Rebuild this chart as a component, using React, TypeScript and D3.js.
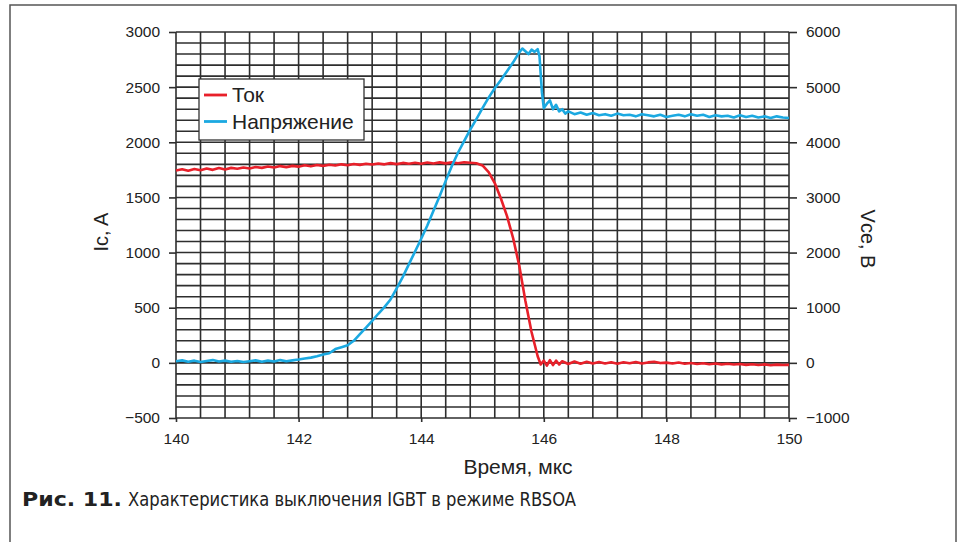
import React, { useRef, useEffect } from 'react';
import * as d3 from 'd3';

// оси
const timeTicks = [140, 142, 144, 146, 148, 150];
const currentTicks = [-500, 0, 500, 1000, 1500, 2000, 2500, 3000];
const voltageTicks = [-1000, 0, 1000, 2000, 3000, 4000, 5000, 6000];

// Ток, А  [время мкс, значение]
const current: [number, number][] = [
  [140.0, 1745], [140.1, 1756], [140.2, 1742], [140.3, 1758], [140.4, 1747],
  [140.5, 1762], [140.6, 1750], [140.7, 1766], [140.8, 1754], [140.9, 1768],
  [141.0, 1760], [141.1, 1772], [141.2, 1763], [141.3, 1776], [141.4, 1768],
  [141.5, 1780], [141.6, 1771], [141.7, 1784], [141.8, 1775], [141.9, 1786],
  [142.0, 1779], [142.1, 1791], [142.2, 1782], [142.3, 1794], [142.4, 1786],
  [142.5, 1797], [142.6, 1789], [142.7, 1800], [142.8, 1792], [142.9, 1803],
  [143.0, 1795], [143.1, 1806], [143.2, 1798], [143.3, 1808], [143.4, 1800],
  [143.5, 1811], [143.6, 1802], [143.7, 1813], [143.8, 1805], [143.9, 1815],
  [144.0, 1806], [144.1, 1816], [144.2, 1808], [144.3, 1818], [144.4, 1809],
  [144.5, 1818], [144.6, 1810], [144.7, 1819], [144.8, 1814], [144.9, 1810],
  [145.0, 1790], [145.1, 1730], [145.2, 1630], [145.3, 1490], [145.4, 1330],
  [145.5, 1130], [145.6, 880], [145.7, 560], [145.8, 280], [145.9, 60],
  [145.95, -15], [146.0, 20], [146.05, -25], [146.1, 25], [146.15, -20],
  [146.2, 20], [146.25, -15], [146.3, 15], [146.4, -10], [146.5, 12],
  [146.6, -8], [146.7, 10], [146.8, -5], [146.9, 8], [147.0, -5],
  [147.1, 5], [147.2, -8], [147.3, 6], [147.4, -4], [147.5, 8],
  [147.6, -6], [147.7, 4], [147.8, 10], [147.9, -2], [148.0, 2],
  [148.1, -6], [148.2, 3], [148.3, -8], [148.4, -2], [148.5, -10],
  [148.6, -4], [148.7, -12], [148.8, -6], [148.9, -14], [149.0, -8],
  [149.1, -15], [149.2, -10], [149.3, -18], [149.4, -12], [149.5, -20],
  [149.6, -14], [149.7, -22], [149.8, -16], [149.9, -20], [150.0, -18],
];

// Напряжение, В
const voltage: [number, number][] = [
  [140.0, 30], [140.1, 45], [140.2, 20], [140.3, 40], [140.4, 15],
  [140.5, 35], [140.6, 50], [140.7, 25], [140.8, 40], [140.9, 20],
  [141.0, 35], [141.1, 15], [141.2, 30], [141.3, 45], [141.4, 20],
  [141.5, 40], [141.6, 25], [141.7, 50], [141.8, 30], [141.9, 45],
  [142.0, 60], [142.1, 80], [142.2, 95], [142.3, 120], [142.4, 150],
  [142.5, 175], [142.6, 250], [142.7, 285], [142.8, 320], [142.9, 400],
  [143.0, 520], [143.1, 640], [143.2, 760], [143.3, 890], [143.4, 1010],
  [143.5, 1150], [143.6, 1350], [143.7, 1560], [143.8, 1790], [143.9, 2020],
  [144.0, 2250], [144.1, 2490], [144.2, 2760], [144.3, 3020], [144.4, 3300],
  [144.5, 3570], [144.6, 3810], [144.7, 4020], [144.8, 4230], [144.9, 4420],
  [145.0, 4620], [145.1, 4810], [145.2, 4980], [145.3, 5130], [145.4, 5290],
  [145.5, 5450], [145.6, 5630], [145.65, 5700], [145.7, 5650], [145.75, 5600],
  [145.8, 5680], [145.85, 5640], [145.9, 5690], [145.93, 5560], [145.97, 4900],
  [146.0, 4620], [146.05, 4700], [146.1, 4760], [146.15, 4600], [146.2, 4680],
  [146.25, 4560], [146.3, 4600], [146.35, 4520], [146.4, 4560], [146.5, 4510],
  [146.6, 4540], [146.7, 4500], [146.8, 4530], [146.9, 4490], [147.0, 4510],
  [147.1, 4480], [147.2, 4520], [147.3, 4490], [147.4, 4500], [147.5, 4470],
  [147.6, 4510], [147.7, 4490], [147.8, 4470], [147.9, 4500], [148.0, 4460],
  [148.1, 4480], [148.2, 4500], [148.3, 4470], [148.4, 4510], [148.5, 4480],
  [148.6, 4500], [148.7, 4460], [148.8, 4490], [148.9, 4470], [149.0, 4480],
  [149.1, 4450], [149.2, 4490], [149.3, 4460], [149.4, 4480], [149.5, 4450],
  [149.6, 4470], [149.7, 4440], [149.8, 4470], [149.9, 4450], [150.0, 4440],
];

const legendItems = [
  { label: 'Ток', color: '#e8202a' },
  { label: 'Напряжение', color: '#1ba9e1' },
];

const W = 959;
const H = 542;
const margin = { top: 32, right: 170, bottom: 124, left: 176 };
const FONT = "'Liberation Sans', Arial, sans-serif";
const GRID = '#2e2e2e';

const App = () => {
  const ref = useRef<SVGSVGElement>(null);

  useEffect(() => {
    const width = W - margin.left - margin.right;
    const height = H - margin.top - margin.bottom;

    const svg = d3.select(ref.current);
    svg.selectAll('*').remove();

    // рамка рисунка
    svg.append('rect')
      .attr('x', 10).attr('y', 5)
      .attr('width', 946).attr('height', 560)
      .attr('fill', '#fff')
      .attr('stroke', '#555').attr('stroke-width', 1.5);

    const g = svg.append('g')
      .attr('transform', `translate(${margin.left},${margin.top})`);

    const x = d3.scaleLinear().domain([140, 150]).range([0, width]);
    const yL = d3.scaleLinear().domain([-500, 3000]).range([height, 0]);
    const yR = d3.scaleLinear().domain([-1000, 6000]).range([height, 0]);

    // сетка
    const vGrid = d3.range(0, 26).map(i => 140 + i * 0.4);
    const hGrid = d3.range(-500, 3001, 100);

    g.append('g').selectAll('line')
      .data(vGrid)
      .enter().append('line')
      .attr('x1', d => x(d)).attr('x2', d => x(d))
      .attr('y1', 0).attr('y2', height)
      .attr('stroke', GRID).attr('stroke-width', 1.6);

    g.append('g').selectAll('line')
      .data(hGrid)
      .enter().append('line')
      .attr('x1', 0).attr('x2', width)
      .attr('y1', d => yL(d)).attr('y2', d => yL(d))
      .attr('stroke', GRID).attr('stroke-width', 1.6);

    const styleAxis = (sel) => {
      sel.select('.domain').remove();
      sel.selectAll('.tick line').attr('stroke', GRID).attr('stroke-width', 1.6);
      sel.selectAll('.tick text')
        .attr('fill', '#222')
        .style('font-family', FONT)
        .style('font-size', '15.5px');
    };

    g.append('g')
      .call(d3.axisLeft(yL).tickValues(currentTicks).tickSize(7).tickPadding(9).tickFormat(d3.format('d')))
      .call(styleAxis);

    g.append('g')
      .attr('transform', `translate(${width},0)`)
      .call(d3.axisRight(yR).tickValues(voltageTicks).tickSize(8).tickPadding(9).tickFormat(d3.format('d')))
      .call(styleAxis);

    g.append('g')
      .attr('transform', `translate(0,${height})`)
      .call(d3.axisBottom(x).tickValues(timeTicks).tickSize(4).tickPadding(11))
      .call(styleAxis);

    // кривые
    const lineL = d3.line<[number, number]>().x(d => x(d[0])).y(d => yL(d[1]));
    const lineR = d3.line<[number, number]>().x(d => x(d[0])).y(d => yR(d[1]));

    g.append('path')
      .datum(current)
      .attr('d', lineL)
      .attr('fill', 'none')
      .attr('stroke', legendItems[0].color)
      .attr('stroke-width', 2.6)
      .attr('stroke-linejoin', 'round');

    g.append('path')
      .datum(voltage)
      .attr('d', lineR)
      .attr('fill', 'none')
      .attr('stroke', legendItems[1].color)
      .attr('stroke-width', 2.6)
      .attr('stroke-linejoin', 'round');

    // легенда
    const legend = svg.append('g').attr('transform', 'translate(199,79)');
    legend.append('rect')
      .attr('width', 165).attr('height', 61)
      .attr('fill', '#fff')
      .attr('stroke', '#333').attr('stroke-width', 1.3);

    const items = legend.selectAll('.item')
      .data(legendItems)
      .enter().append('g')
      .attr('class', 'item')
      .attr('transform', (d, i) => `translate(0,${16 + i * 26.5})`);

    items.append('line')
      .attr('x1', 5).attr('x2', 28)
      .attr('stroke', d => d.color)
      .attr('stroke-width', 2.8);

    items.append('text')
      .attr('x', 33).attr('y', 7)
      .attr('fill', '#222')
      .style('font-family', FONT)
      .style('font-size', '21px')
      .text(d => d.label);

    // подписи осей
    svg.append('text')
      .attr('transform', 'translate(108,232) rotate(-90)')
      .attr('text-anchor', 'middle')
      .attr('fill', '#222')
      .style('font-family', FONT)
      .style('font-size', '20px')
      .text('Ic, A');

    svg.append('text')
      .attr('transform', 'translate(861,239) rotate(90)')
      .attr('text-anchor', 'middle')
      .attr('fill', '#222')
      .style('font-family', FONT)
      .style('font-size', '20px')
      .text('Vce, B');

    svg.append('text')
      .attr('x', 518).attr('y', 474)
      .attr('text-anchor', 'middle')
      .attr('fill', '#222')
      .style('font-family', FONT)
      .style('font-size', '21px')
      .text('Время, мкс');

    // подпись рисунка
    const CAP = "'Liberation Sans Narrow', 'DejaVu Sans Condensed', Roboto, sans-serif";
    svg.append('text')
      .attr('x', 22).attr('y', 506)
      .attr('fill', '#222')
      .attr('textLength', 100).attr('lengthAdjust', 'spacingAndGlyphs')
      .style('font-family', CAP)
      .style('font-weight', 'bold')
      .style('font-size', '20px')
      .text('Рис. 11.');

    svg.append('text')
      .attr('x', 128).attr('y', 506)
      .attr('fill', '#222')
      .attr('textLength', 448).attr('lengthAdjust', 'spacingAndGlyphs')
      .style('font-family', CAP)
      .style('font-size', '20px')
      .text('Характеристика выключения IGBT в режиме RBSOA');
  }, []);

  return (
    <svg
      ref={ref}
      width={W}
      height={H}
      style={{ position: 'absolute', left: 0, top: 0, display: 'block' }}
    />
  );
};

export default App;
